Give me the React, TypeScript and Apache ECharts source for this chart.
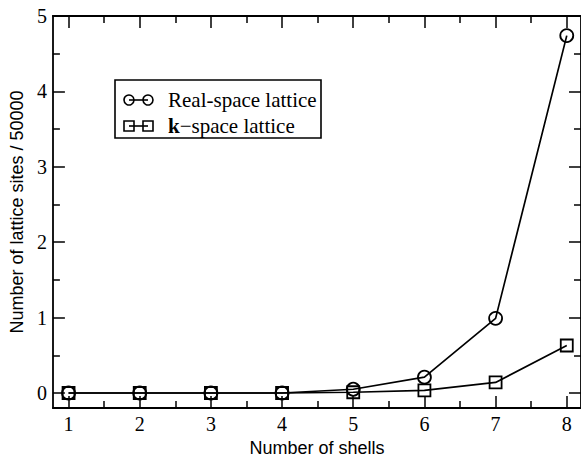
import React, { useEffect, useRef } from "react";
import * as echarts from "echarts";

// Number of shells on the x axis
const shells = [1, 2, 3, 4, 5, 6, 7, 8];
// Lattice site counts (in units of 50000)
const realSpace = [0, 0, 0, 0, 0.05, 0.21, 0.99, 4.74];
const kSpace = [0, 0, 0, 0, 0.01, 0.035, 0.14, 0.63];

const xMajor = [1, 2, 3, 4, 5, 6, 7, 8];
const xMinor = [1.5, 2.5, 3.5, 4.5, 5.5, 6.5, 7.5];
const yMajor = [0, 1, 2, 3, 4, 5];
const yMinor = [0.5, 1.5, 2.5, 3.5, 4.5];

const X_MIN = 0.78;
const X_MAX = 8.2;
const Y_MIN = -0.2;
const Y_MAX = 5;

const SERIF = "'Liberation Serif', 'Times New Roman', serif";
const SANS = "'Liberation Sans', Arial, sans-serif";

function tickAxis(
  kind: "x" | "y",
  position: string,
  values: number[],
  len: number,
  labels: boolean,
  line: boolean,
  extra: Record<string, unknown> = {}
) {
  return {
    type: "value",
    position,
    min: kind === "x" ? X_MIN : Y_MIN,
    max: kind === "x" ? X_MAX : Y_MAX,
    axisLine: { show: line, onZero: false, lineStyle: { color: "#000", width: 1.8 } },
    axisTick: {
      show: true,
      inside: true,
      length: len,
      customValues: values,
      lineStyle: { color: "#000", width: 1.5 },
    },
    axisLabel: labels
      ? {
          show: true,
          customValues: values,
          color: "#000",
          fontFamily: SERIF,
          fontSize: 20,
          margin: 6,
        }
      : { show: false },
    splitLine: { show: false },
    ...extra,
  };
}

export default function App() {
  const ref = useRef<HTMLDivElement>(null);

  useEffect(() => {
    if (!ref.current) return;
    const chart = echarts.init(ref.current, null, { renderer: "svg" });

    const markerStyle = {
      color: "rgba(255,255,255,0)",
      borderColor: "#000",
      borderWidth: 1.8,
    };

    // Legend entries: a short line with a marker at each end, then the label
    const lx = 129;
    const rx = 148;
    const legendRow = (y: number, shape: "circle" | "rect") => {
      const marker = (cx: number) =>
        shape === "circle"
          ? {
              type: "circle",
              shape: { cx, cy: y, r: 5 },
              style: { fill: "none", stroke: "#000", lineWidth: 1.6 },
            }
          : {
              type: "rect",
              shape: { x: cx - 5, y: y - 5, width: 10, height: 10 },
              style: { fill: "none", stroke: "#000", lineWidth: 1.6 },
            };
      return [
        {
          type: "line",
          shape: { x1: lx, y1: y, x2: rx, y2: y },
          style: { stroke: "#000", lineWidth: 1.6 },
        },
        marker(lx),
        marker(rx),
      ];
    };

    chart.setOption({
      animation: false,
      backgroundColor: "#fff",
      grid: { left: 51, right: -3, top: 16, bottom: 49, containLabel: false },
      xAxis: [
        tickAxis("x", "bottom", xMajor, 12, true, true, {
          name: "Number of shells",
          nameLocation: "middle",
          nameGap: 30,
          nameTextStyle: { fontFamily: SANS, fontSize: 18, color: "#000" },
        }),
        tickAxis("x", "bottom", xMinor, 7, false, false),
        tickAxis("x", "top", xMajor, 12, false, true),
        tickAxis("x", "top", xMinor, 7, false, false),
      ],
      yAxis: [
        tickAxis("y", "left", yMajor, 12, true, true, {
          name: "Number of lattice sites / 50000",
          nameLocation: "middle",
          nameGap: 25,
          nameTextStyle: { fontFamily: SANS, fontSize: 18, color: "#000" },
        }),
        tickAxis("y", "left", yMinor, 7, false, false),
        tickAxis("y", "right", yMajor, 12, false, true),
        tickAxis("y", "right", yMinor, 7, false, false),
      ],
      series: [
        {
          name: "Real-space lattice",
          type: "line",
          data: shells.map((s, i) => [s, realSpace[i]]),
          symbol: "circle",
          symbolSize: 13,
          showAllSymbol: true,
          itemStyle: markerStyle,
          lineStyle: { color: "#000", width: 1.7 },
        },
        {
          name: "k-space lattice",
          type: "line",
          data: shells.map((s, i) => [s, kSpace[i]]),
          symbol: "rect",
          symbolSize: 12,
          showAllSymbol: true,
          itemStyle: markerStyle,
          lineStyle: { color: "#000", width: 1.7 },
        },
      ],
      graphic: [
        {
          type: "rect",
          shape: { x: 115, y: 80, width: 206, height: 58 },
          style: { fill: "#fff", stroke: "#000", lineWidth: 1.6 },
        },
        ...legendRow(100, "circle"),
        ...legendRow(126, "rect"),
        {
          type: "text",
          x: 168,
          y: 100,
          style: {
            text: "Real-space lattice",
            fontFamily: SERIF,
            fontSize: 21,
            fill: "#000",
            verticalAlign: "middle",
          },
        },
        {
          type: "text",
          x: 168,
          y: 126,
          style: {
            text: "{b|k}\u2212space lattice",
            fontFamily: SERIF,
            fontSize: 21,
            fill: "#000",
            verticalAlign: "middle",
            rich: {
              b: { fontFamily: SERIF, fontSize: 21, fontWeight: "bold", fill: "#000" },
            },
          },
        },
      ],
    });

    return () => chart.dispose();
  }, []);

  return (
    <div
      ref={ref}
      style={{ position: "absolute", left: 0, top: 0, width: 581, height: 462 }}
    />
  );
}
